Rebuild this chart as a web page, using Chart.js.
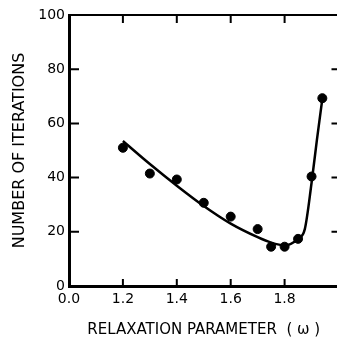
<!DOCTYPE html>
<html>
<head>
<meta charset="utf-8">
<script src="https://cdn.jsdelivr.net/npm/chart.js@4/dist/chart.umd.min.js"></script>
<style>
  html, body { margin: 0; padding: 0; background: #fff; overflow: hidden; }
  #wrap { width: 337px; height: 339px; overflow: hidden; }
</style>
</head>
<body>
<div id="wrap"><canvas id="chart" width="344" height="339"></canvas></div>
<script>
  // measured points (omega, iterations)
  const omegaMeasured = [1.2, 1.3, 1.4, 1.5, 1.6, 1.7, 1.75, 1.8, 1.85, 1.9, 1.94];
  const itersMeasured = [51, 41.5, 39.3, 30.7, 25.6, 21, 14.5, 14.5, 17.4, 40.4, 69.3];

  // fitted curve
  const omegaCurve = [1.2, 1.3, 1.4, 1.5, 1.6, 1.7, 1.75, 1.8, 1.85, 1.875, 1.9, 1.92, 1.94];
  const itersCurve = [53.5, 45, 37, 29.5, 23, 18, 16, 15, 17.5, 21, 38, 54, 69];

  const xTicks = [1.0, 1.2, 1.4, 1.6, 1.8];
  const yTicks = [0, 20, 40, 60, 80, 100];

  const fontFamily = '"DejaVu Sans", "Liberation Sans", sans-serif';

  // inward tick marks on all four sides plus top border
  const frameTicks = {
    id: 'frameTicks',
    afterDraw(chart) {
      const ctx = chart.ctx;
      const a = chart.chartArea;
      const xs = chart.scales.x, ys = chart.scales.y;
      ctx.save();
      ctx.strokeStyle = '#000';
      ctx.lineWidth = 2;
      ctx.beginPath();
      ctx.moveTo(a.left, a.top);
      ctx.lineTo(a.right, a.top);
      ctx.stroke();
      xTicks.slice(1).forEach(v => {
        const px = xs.getPixelForValue(v);
        ctx.beginPath();
        ctx.moveTo(px, a.bottom);
        ctx.lineTo(px, a.bottom - 7);
        ctx.moveTo(px, a.top);
        ctx.lineTo(px, a.top + 8);
        ctx.stroke();
      });
      yTicks.slice(1, -1).forEach(v => {
        const py = ys.getPixelForValue(v);
        ctx.beginPath();
        ctx.moveTo(a.left, py);
        ctx.lineTo(a.left + 10, py);
        ctx.moveTo(a.right, py);
        ctx.lineTo(a.right - 7, py);
        ctx.stroke();
      });
      ctx.restore();
    }
  };

  new Chart(document.getElementById('chart'), {
    type: 'scatter',
    data: {
      datasets: [
        {
          label: 'curve',
          data: omegaCurve.map((x, i) => ({ x: x, y: itersCurve[i] })),
          showLine: true,
          borderColor: '#000',
          borderWidth: 2.5,
          pointRadius: 0,
          cubicInterpolationMode: 'monotone',
          fill: false
        },
        {
          label: 'measured',
          data: omegaMeasured.map((x, i) => ({ x: x, y: itersMeasured[i] })),
          backgroundColor: '#000',
          borderColor: '#000',
          pointRadius: 4.5
        }
      ]
    },
    plugins: [frameTicks],
    options: {
      responsive: false,
      animation: false,
      layout: { padding: { top: 15, right: 0, left: 0, bottom: 0 } },
      plugins: {
        legend: { display: false },
        tooltip: { enabled: false }
      },
      scales: {
        x: {
          type: 'linear',
          min: 1.0,
          max: 2.0,
          grid: { display: false, drawTicks: false },
          border: { display: true, color: '#000', width: 3 },
          afterBuildTicks: scale => { scale.ticks = xTicks.map(v => ({ value: v })); },
          afterFit: scale => { scale.height = 53; },
          ticks: {
            color: '#000',
            padding: 5,
            maxRotation: 0,
            font: { family: fontFamily, size: 14 },
            callback: v => (Math.abs(v - 1.0) < 1e-6 ? '0.0' : v.toFixed(1))
          },
          title: {
            display: true,
            text: 'RELAXATION PARAMETER  ( ω )',
            color: '#000',
            font: { family: fontFamily, size: 15 },
            padding: { top: 0, bottom: 0 }
          }
        },
        y: {
          type: 'linear',
          min: 0,
          max: 100,
          grid: { display: false, drawTicks: false },
          border: { display: true, color: '#000', width: 3 },
          afterBuildTicks: scale => { scale.ticks = yTicks.map(v => ({ value: v })); },
          afterFit: scale => { scale.width = 69; },
          ticks: {
            color: '#000',
            padding: 4,
            font: { family: fontFamily, size: 14 }
          },
          title: {
            display: true,
            text: 'NUMBER OF ITERATIONS',
            color: '#000',
            font: { family: fontFamily, size: 16 },
            padding: { top: 10, bottom: 0 }
          }
        }
      }
    }
  });
</script>
</body>
</html>
